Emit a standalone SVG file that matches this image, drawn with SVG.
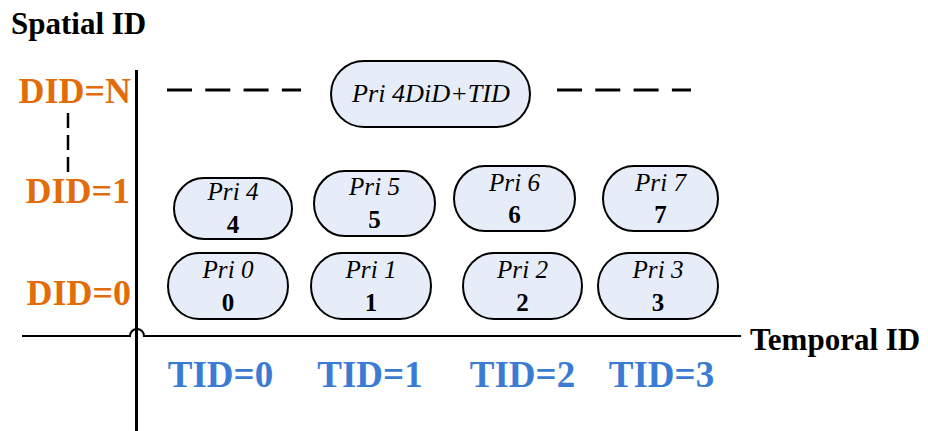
<svg xmlns="http://www.w3.org/2000/svg" width="928" height="431" viewBox="0 0 928 431">
  <style>
    .axis { fill: none; stroke: #000; }
    .dash { fill: none; stroke: #000; stroke-width: 3; stroke-dasharray: 25 13.3; }
    .node rect { fill: #E7EDF8; stroke: #000; stroke-width: 2; }
    .pri { font-family: "Liberation Serif", "Times New Roman", serif; font-style: italic; font-size: 26px; fill: #000; text-anchor: middle; }
    .num { font-family: "Liberation Serif", "Times New Roman", serif; font-weight: bold; font-size: 25px; fill: #000; text-anchor: middle; }
    .title { font-family: "Liberation Serif", "Times New Roman", serif; font-weight: bold; font-size: 31px; fill: #000; }
    .did { font-family: "Liberation Serif", "Times New Roman", serif; font-weight: bold; font-size: 36px; fill: #E36C0A; text-anchor: end; }
    .tid { font-family: "Liberation Serif", "Times New Roman", serif; font-weight: bold; font-size: 37px; fill: #3B7BD4; text-anchor: middle; }
  </style>

  <!-- axes and dashed guides -->
  <g id="connectors">
    <line class="axis" x1="136.5" y1="70" x2="136.5" y2="431" stroke-width="3"/>
    <path class="axis" d="M22 336 H130 A7 7 0 0 1 144 336 H741" stroke-width="2"/>
    <line class="dash" x1="167" y1="90" x2="301" y2="90"/>
    <line class="dash" x1="557" y1="90" x2="691" y2="90"/>
    <line class="axis" x1="68" y1="113" x2="68" y2="172" stroke-width="2.5" stroke-dasharray="15 7"/>
  </g>

  <!-- axis titles -->
  <g id="axis-labels">
    <text class="title" x="11" y="34">Spatial ID</text>
    <text class="title" x="750" y="350">Temporal ID</text>
  </g>

  <!-- spatial layer labels -->
  <g id="did-labels">
    <text class="did" x="131" y="103">DID=N</text>
    <text class="did" x="130" y="203">DID=1</text>
    <text class="did" x="131" y="305">DID=0</text>
  </g>

  <!-- temporal layer labels -->
  <g id="tid-labels">
    <text class="tid" x="220.5" y="387">TID=0</text>
    <text class="tid" x="370" y="387">TID=1</text>
    <text class="tid" x="522.5" y="387">TID=2</text>
    <text class="tid" x="661.5" y="387">TID=3</text>
  </g>

  <!-- priority nodes -->
  <g id="node-top" class="node">
    <rect x="331" y="61" width="199" height="66" rx="33" ry="33"/>
    <text class="pri" x="431" y="102" font-size="27" textLength="158" lengthAdjust="spacingAndGlyphs">Pri 4DiD+TID</text>
  </g>

  <g id="node-4" class="node">
    <rect x="174" y="178" width="118" height="61" rx="30" ry="30.5"/>
    <text class="pri" x="233" y="200" textLength="51" lengthAdjust="spacingAndGlyphs">Pri 4</text>
    <text class="num" x="233" y="233">4</text>
  </g>
  <g id="node-5" class="node">
    <rect x="314" y="171" width="121" height="65" rx="31" ry="32.5"/>
    <text class="pri" x="374.5" y="195" textLength="51" lengthAdjust="spacingAndGlyphs">Pri 5</text>
    <text class="num" x="374.5" y="228">5</text>
  </g>
  <g id="node-6" class="node">
    <rect x="454" y="166" width="121" height="65" rx="31" ry="32.5"/>
    <text class="pri" x="514.5" y="191" textLength="51" lengthAdjust="spacingAndGlyphs">Pri 6</text>
    <text class="num" x="514.5" y="223">6</text>
  </g>
  <g id="node-7" class="node">
    <rect x="603" y="166" width="115" height="65" rx="31" ry="32.5"/>
    <text class="pri" x="660.5" y="191" textLength="51" lengthAdjust="spacingAndGlyphs">Pri 7</text>
    <text class="num" x="660.5" y="223">7</text>
  </g>

  <g id="node-0" class="node">
    <rect x="168" y="253" width="120" height="66" rx="31" ry="33"/>
    <text class="pri" x="228" y="278" textLength="51" lengthAdjust="spacingAndGlyphs">Pri 0</text>
    <text class="num" x="228" y="311">0</text>
  </g>
  <g id="node-1" class="node">
    <rect x="311" y="253" width="120" height="66" rx="31" ry="33"/>
    <text class="pri" x="371" y="278" textLength="51" lengthAdjust="spacingAndGlyphs">Pri 1</text>
    <text class="num" x="371" y="311">1</text>
  </g>
  <g id="node-2" class="node">
    <rect x="463" y="253" width="119" height="66" rx="31" ry="33"/>
    <text class="pri" x="522.5" y="278" textLength="51" lengthAdjust="spacingAndGlyphs">Pri 2</text>
    <text class="num" x="522.5" y="311">2</text>
  </g>
  <g id="node-3" class="node">
    <rect x="598" y="253" width="120" height="66" rx="31" ry="33"/>
    <text class="pri" x="658" y="278" textLength="51" lengthAdjust="spacingAndGlyphs">Pri 3</text>
    <text class="num" x="658" y="311">3</text>
  </g>
</svg>
